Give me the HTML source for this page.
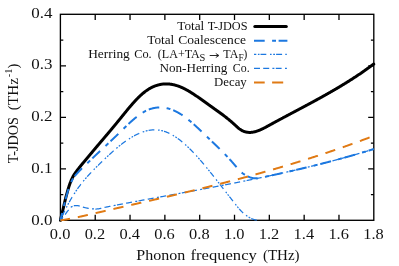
<!DOCTYPE html>
<html><head><meta charset="utf-8"><title>T-JDOS</title>
<style>html,body{margin:0;padding:0;background:#fff;overflow:hidden;}svg{display:block;will-change:transform;font-family:"Liberation Serif",serif;}text{fill:#111;}</style></head><body>
<svg width="399" height="266" viewBox="0 0 399 266">
<rect x="0" y="0" width="399" height="266" fill="#fff"/>
<rect x="60.4" y="14.3" width="313.40" height="206.00" fill="none" stroke="#000" stroke-width="1.35"/>
<path d="M95.22,220.3 v-5.6 M95.22,14.3 v5.6 M130.04,220.3 v-5.6 M130.04,14.3 v5.6 M164.87,220.3 v-5.6 M164.87,14.3 v5.6 M199.69,220.3 v-5.6 M199.69,14.3 v5.6 M234.51,220.3 v-5.6 M234.51,14.3 v5.6 M269.33,220.3 v-5.6 M269.33,14.3 v5.6 M304.16,220.3 v-5.6 M304.16,14.3 v5.6 M338.98,220.3 v-5.6 M338.98,14.3 v5.6 M60.4,194.55 h2.9 M373.8,194.55 h-2.9 M60.4,168.80 h5.6 M373.8,168.80 h-5.6 M60.4,143.05 h2.9 M373.8,143.05 h-2.9 M60.4,117.30 h5.6 M373.8,117.30 h-5.6 M60.4,91.55 h2.9 M373.8,91.55 h-2.9 M60.4,65.80 h5.6 M373.8,65.80 h-5.6 M60.4,40.05 h2.9 M373.8,40.05 h-2.9" stroke="#000" stroke-width="1.3" fill="none"/>
<g fill="none" stroke-linejoin="round">
<path d="M60.40,220.30 L60.75,218.82 L61.10,217.34 L61.44,215.87 L61.79,214.40 L62.14,212.93 L62.49,211.46 L62.84,210.00 L63.19,208.54 L63.53,207.08 L63.88,205.60 L64.23,204.11 L64.58,202.62 L64.93,201.15 L65.28,199.71 L65.62,198.30 L65.97,196.93 L66.32,195.62 L66.67,194.32 L67.02,193.04 L67.36,191.78 L67.71,190.55 L68.06,189.36 L68.41,188.21 L68.76,187.11 L69.11,186.05 L69.45,185.04 L69.80,184.05 L70.15,183.09 L70.50,182.16 L70.85,181.27 L71.19,180.40 L71.54,179.58 L71.89,178.79 L72.24,178.05 L72.59,177.35 L72.94,176.69 L73.28,176.06 L73.63,175.45 L73.98,174.87 L74.33,174.31 L74.68,173.77 L75.03,173.25 L75.37,172.75 L75.72,172.27 L76.07,171.79 L76.42,171.32 L76.77,170.87 L77.11,170.42 L77.46,169.97 L77.81,169.53 L78.16,169.08 L78.51,168.63 L78.86,168.18 L79.20,167.73 L79.55,167.28 L79.90,166.83 L80.25,166.39 L80.60,165.95 L80.95,165.52 L81.29,165.09 L81.64,164.67 L81.99,164.25 L82.34,163.84 L82.69,163.43 L83.03,163.02 L83.38,162.61 L83.73,162.20 L84.08,161.78 L84.43,161.37 L84.78,160.95 L85.12,160.54 L85.47,160.12 L85.82,159.71 L86.17,159.29 L86.52,158.88 L86.86,158.47 L87.21,158.05 L87.56,157.64 L87.91,157.22 L88.26,156.81 L88.61,156.39 L88.95,155.98 L89.30,155.56 L89.65,155.15 L90.00,154.73 L90.35,154.32 L90.70,153.90 L91.04,153.49 L91.39,153.07 L91.74,152.66 L92.09,152.24 L92.44,151.83 L92.78,151.41 L93.13,150.99 L93.48,150.58 L93.83,150.16 L94.18,149.74 L94.53,149.33 L94.87,148.91 L95.22,148.50 L95.57,148.08 L95.92,147.66 L96.27,147.25 L96.62,146.83 L96.96,146.42 L97.31,146.00 L97.66,145.59 L98.01,145.18 L98.36,144.76 L98.70,144.35 L99.05,143.94 L99.40,143.53 L99.75,143.12 L100.10,142.71 L100.45,142.30 L100.79,141.89 L101.14,141.48 L101.49,141.07 L101.84,140.66 L102.19,140.25 L102.53,139.84 L102.88,139.43 L103.23,139.02 L103.58,138.61 L103.93,138.20 L104.28,137.79 L104.62,137.38 L104.97,136.97 L105.32,136.56 L105.67,136.15 L106.02,135.74 L106.37,135.33 L106.71,134.92 L107.06,134.51 L107.41,134.10 L107.76,133.69 L108.11,133.27 L108.45,132.86 L108.80,132.45 L109.15,132.04 L109.50,131.62 L109.85,131.21 L110.20,130.80 L110.54,130.38 L110.89,129.97 L111.24,129.55 L111.59,129.14 L111.94,128.72 L112.29,128.30 L112.63,127.89 L112.98,127.47 L113.33,127.05 L113.68,126.63 L114.03,126.21 L114.37,125.79 L114.72,125.37 L115.07,124.95 L115.42,124.53 L115.77,124.11 L116.12,123.69 L116.46,123.26 L116.81,122.84 L117.16,122.41 L117.51,121.99 L117.86,121.56 L118.20,121.13 L118.55,120.71 L118.90,120.28 L119.25,119.85 L119.60,119.42 L119.95,118.99 L120.29,118.56 L120.64,118.13 L120.99,117.70 L121.34,117.27 L121.69,116.83 L122.04,116.40 L122.38,115.97 L122.73,115.54 L123.08,115.11 L123.43,114.68 L123.78,114.25 L124.12,113.82 L124.47,113.39 L124.82,112.97 L125.17,112.54 L125.52,112.11 L125.87,111.69 L126.21,111.26 L126.56,110.84 L126.91,110.41 L127.26,109.99 L127.61,109.57 L127.96,109.15 L128.30,108.73 L128.65,108.32 L129.00,107.90 L129.35,107.49 L129.70,107.08 L130.04,106.67 L130.39,106.26 L130.74,105.85 L131.09,105.45 L131.44,105.04 L131.79,104.64 L132.13,104.25 L132.48,103.85 L132.83,103.46 L133.18,103.06 L133.53,102.67 L133.87,102.29 L134.22,101.90 L134.57,101.52 L134.92,101.14 L135.27,100.77 L135.62,100.39 L135.96,100.02 L136.31,99.66 L136.66,99.29 L137.01,98.93 L137.36,98.57 L137.71,98.22 L138.05,97.87 L138.40,97.52 L138.75,97.18 L139.10,96.84 L139.45,96.50 L139.79,96.17 L140.14,95.84 L140.49,95.51 L140.84,95.19 L141.19,94.87 L141.54,94.56 L141.88,94.25 L142.23,93.95 L142.58,93.65 L142.93,93.35 L143.28,93.06 L143.63,92.77 L143.97,92.49 L144.32,92.21 L144.67,91.94 L145.02,91.67 L145.37,91.41 L145.71,91.15 L146.06,90.89 L146.41,90.64 L146.76,90.40 L147.11,90.16 L147.46,89.93 L147.80,89.70 L148.15,89.47 L148.50,89.25 L148.85,89.04 L149.20,88.83 L149.54,88.62 L149.89,88.42 L150.24,88.22 L150.59,88.03 L150.94,87.84 L151.29,87.66 L151.63,87.48 L151.98,87.31 L152.33,87.14 L152.68,86.97 L153.03,86.81 L153.38,86.66 L153.72,86.51 L154.07,86.36 L154.42,86.22 L154.77,86.08 L155.12,85.95 L155.46,85.82 L155.81,85.69 L156.16,85.57 L156.51,85.46 L156.86,85.34 L157.21,85.24 L157.55,85.13 L157.90,85.04 L158.25,84.94 L158.60,84.85 L158.95,84.77 L159.30,84.68 L159.64,84.61 L159.99,84.53 L160.34,84.46 L160.69,84.40 L161.04,84.34 L161.38,84.28 L161.73,84.23 L162.08,84.18 L162.43,84.13 L162.78,84.09 L163.13,84.06 L163.47,84.03 L163.82,84.00 L164.17,83.97 L164.52,83.95 L164.87,83.93 L165.21,83.92 L165.56,83.91 L165.91,83.91 L166.26,83.91 L166.61,83.91 L166.96,83.92 L167.30,83.93 L167.65,83.94 L168.00,83.96 L168.35,83.98 L168.70,84.01 L169.05,84.03 L169.39,84.07 L169.74,84.10 L170.09,84.14 L170.44,84.19 L170.79,84.24 L171.13,84.29 L171.48,84.34 L171.83,84.40 L172.18,84.46 L172.53,84.53 L172.88,84.60 L173.22,84.67 L173.57,84.74 L173.92,84.82 L174.27,84.91 L174.62,84.99 L174.97,85.08 L175.31,85.18 L175.66,85.27 L176.01,85.37 L176.36,85.48 L176.71,85.58 L177.05,85.69 L177.40,85.81 L177.75,85.92 L178.10,86.04 L178.45,86.17 L178.80,86.29 L179.14,86.42 L179.49,86.56 L179.84,86.69 L180.19,86.83 L180.54,86.97 L180.88,87.12 L181.23,87.27 L181.58,87.42 L181.93,87.57 L182.28,87.73 L182.63,87.89 L182.97,88.05 L183.32,88.22 L183.67,88.39 L184.02,88.56 L184.37,88.73 L184.72,88.91 L185.06,89.09 L185.41,89.27 L185.76,89.46 L186.11,89.64 L186.46,89.83 L186.80,90.02 L187.15,90.22 L187.50,90.41 L187.85,90.61 L188.20,90.81 L188.55,91.01 L188.89,91.22 L189.24,91.42 L189.59,91.63 L189.94,91.84 L190.29,92.05 L190.64,92.27 L190.98,92.48 L191.33,92.70 L191.68,92.92 L192.03,93.14 L192.38,93.36 L192.72,93.59 L193.07,93.81 L193.42,94.04 L193.77,94.27 L194.12,94.50 L194.47,94.73 L194.81,94.96 L195.16,95.19 L195.51,95.43 L195.86,95.66 L196.21,95.90 L196.55,96.14 L196.90,96.38 L197.25,96.62 L197.60,96.86 L197.95,97.10 L198.30,97.34 L198.64,97.59 L198.99,97.83 L199.34,98.08 L199.69,98.32 L200.04,98.57 L200.39,98.81 L200.73,99.06 L201.08,99.31 L201.43,99.56 L201.78,99.81 L202.13,100.05 L202.47,100.30 L202.82,100.55 L203.17,100.80 L203.52,101.05 L203.87,101.30 L204.22,101.55 L204.56,101.80 L204.91,102.05 L205.26,102.30 L205.61,102.55 L205.96,102.80 L206.31,103.05 L206.65,103.30 L207.00,103.55 L207.35,103.80 L207.70,104.04 L208.05,104.29 L208.39,104.54 L208.74,104.78 L209.09,105.03 L209.44,105.28 L209.79,105.52 L210.14,105.77 L210.48,106.02 L210.83,106.26 L211.18,106.51 L211.53,106.75 L211.88,107.00 L212.22,107.24 L212.57,107.49 L212.92,107.73 L213.27,107.98 L213.62,108.23 L213.97,108.47 L214.31,108.72 L214.66,108.96 L215.01,109.21 L215.36,109.46 L215.71,109.71 L216.06,109.95 L216.40,110.20 L216.75,110.45 L217.10,110.70 L217.45,110.95 L217.80,111.20 L218.14,111.45 L218.49,111.70 L218.84,111.95 L219.19,112.21 L219.54,112.46 L219.89,112.71 L220.23,112.97 L220.58,113.23 L220.93,113.48 L221.28,113.74 L221.63,114.00 L221.98,114.26 L222.32,114.52 L222.67,114.78 L223.02,115.04 L223.37,115.31 L223.72,115.57 L224.06,115.84 L224.41,116.11 L224.76,116.38 L225.11,116.65 L225.46,116.92 L225.81,117.19 L226.15,117.46 L226.50,117.74 L226.85,118.02 L227.20,118.29 L227.55,118.57 L227.89,118.86 L228.24,119.14 L228.59,119.42 L228.94,119.71 L229.29,120.00 L229.64,120.29 L229.98,120.58 L230.33,120.87 L230.68,121.17 L231.03,121.46 L231.38,121.76 L231.73,122.06 L232.07,122.37 L232.42,122.67 L232.77,122.98 L233.12,123.29 L233.47,123.60 L233.81,123.91 L234.16,124.23 L234.51,124.54 L234.86,124.86 L235.21,125.18 L235.56,125.51 L235.90,125.83 L236.25,126.16 L236.60,126.48 L236.95,126.80 L237.30,127.11 L237.65,127.42 L237.99,127.73 L238.34,128.03 L238.69,128.32 L239.04,128.60 L239.39,128.87 L239.73,129.12 L240.08,129.37 L240.43,129.60 L240.78,129.82 L241.13,130.03 L241.48,130.23 L241.82,130.42 L242.17,130.61 L242.52,130.78 L242.87,130.94 L243.22,131.09 L243.56,131.24 L243.91,131.37 L244.26,131.50 L244.61,131.62 L244.96,131.72 L245.31,131.83 L245.65,131.92 L246.00,132.00 L246.35,132.08 L246.70,132.15 L247.05,132.21 L247.40,132.26 L247.74,132.30 L248.09,132.34 L248.44,132.37 L248.79,132.39 L249.14,132.41 L249.48,132.42 L249.83,132.42 L250.18,132.41 L250.53,132.40 L250.88,132.38 L251.23,132.36 L251.57,132.33 L251.92,132.29 L252.27,132.25 L252.62,132.20 L252.97,132.14 L253.32,132.08 L253.66,132.01 L254.01,131.94 L254.36,131.87 L254.71,131.78 L255.06,131.70 L255.40,131.60 L255.75,131.51 L256.10,131.40 L256.45,131.30 L256.80,131.19 L257.15,131.07 L257.49,130.95 L257.84,130.83 L258.19,130.70 L258.54,130.57 L258.89,130.43 L259.23,130.29 L259.58,130.15 L259.93,130.01 L260.28,129.86 L260.63,129.70 L260.98,129.55 L261.32,129.39 L261.67,129.23 L262.02,129.07 L262.37,128.90 L262.72,128.73 L263.07,128.56 L263.41,128.39 L263.76,128.21 L264.11,128.03 L264.46,127.85 L264.81,127.67 L265.15,127.49 L265.50,127.31 L265.85,127.12 L266.20,126.94 L266.55,126.75 L266.90,126.56 L267.24,126.37 L267.59,126.18 L267.94,125.99 L268.29,125.80 L268.64,125.61 L268.99,125.41 L269.33,125.22 L269.68,125.03 L270.03,124.84 L270.38,124.64 L270.73,124.45 L271.07,124.26 L271.42,124.07 L271.77,123.88 L272.12,123.69 L272.47,123.50 L272.82,123.31 L273.16,123.12 L273.51,122.93 L273.86,122.74 L274.21,122.55 L274.56,122.36 L274.90,122.17 L275.25,121.98 L275.60,121.79 L275.95,121.60 L276.30,121.41 L276.65,121.22 L276.99,121.03 L277.34,120.85 L277.69,120.66 L278.04,120.47 L278.39,120.28 L278.74,120.09 L279.08,119.91 L279.43,119.72 L279.78,119.53 L280.13,119.34 L280.48,119.16 L280.82,118.97 L281.17,118.78 L281.52,118.60 L281.87,118.41 L282.22,118.22 L282.57,118.04 L282.91,117.85 L283.26,117.66 L283.61,117.48 L283.96,117.29 L284.31,117.10 L284.66,116.92 L285.00,116.73 L285.35,116.55 L285.70,116.36 L286.05,116.18 L286.40,115.99 L286.74,115.81 L287.09,115.62 L287.44,115.43 L287.79,115.25 L288.14,115.06 L288.49,114.88 L288.83,114.69 L289.18,114.51 L289.53,114.32 L289.88,114.14 L290.23,113.95 L290.57,113.77 L290.92,113.58 L291.27,113.40 L291.62,113.22 L291.97,113.03 L292.32,112.85 L292.66,112.66 L293.01,112.48 L293.36,112.29 L293.71,112.11 L294.06,111.92 L294.41,111.74 L294.75,111.55 L295.10,111.37 L295.45,111.18 L295.80,111.00 L296.15,110.82 L296.49,110.63 L296.84,110.45 L297.19,110.26 L297.54,110.08 L297.89,109.89 L298.24,109.71 L298.58,109.52 L298.93,109.34 L299.28,109.15 L299.63,108.97 L299.98,108.78 L300.33,108.60 L300.67,108.41 L301.02,108.23 L301.37,108.04 L301.72,107.86 L302.07,107.67 L302.41,107.49 L302.76,107.30 L303.11,107.12 L303.46,106.93 L303.81,106.75 L304.16,106.56 L304.50,106.38 L304.85,106.19 L305.20,106.00 L305.55,105.82 L305.90,105.63 L306.24,105.45 L306.59,105.26 L306.94,105.07 L307.29,104.89 L307.64,104.70 L307.99,104.51 L308.33,104.33 L308.68,104.14 L309.03,103.95 L309.38,103.77 L309.73,103.58 L310.08,103.39 L310.42,103.21 L310.77,103.02 L311.12,102.83 L311.47,102.64 L311.82,102.45 L312.16,102.27 L312.51,102.08 L312.86,101.89 L313.21,101.70 L313.56,101.51 L313.91,101.32 L314.25,101.14 L314.60,100.95 L314.95,100.76 L315.30,100.57 L315.65,100.38 L316.00,100.19 L316.34,100.00 L316.69,99.81 L317.04,99.62 L317.39,99.43 L317.74,99.24 L318.08,99.05 L318.43,98.85 L318.78,98.66 L319.13,98.47 L319.48,98.28 L319.83,98.09 L320.17,97.90 L320.52,97.70 L320.87,97.51 L321.22,97.32 L321.57,97.13 L321.91,96.93 L322.26,96.74 L322.61,96.55 L322.96,96.35 L323.31,96.16 L323.66,95.96 L324.00,95.77 L324.35,95.57 L324.70,95.38 L325.05,95.18 L325.40,94.99 L325.75,94.79 L326.09,94.60 L326.44,94.40 L326.79,94.20 L327.14,94.01 L327.49,93.81 L327.83,93.61 L328.18,93.41 L328.53,93.22 L328.88,93.02 L329.23,92.82 L329.58,92.62 L329.92,92.42 L330.27,92.22 L330.62,92.02 L330.97,91.82 L331.32,91.62 L331.67,91.42 L332.01,91.22 L332.36,91.02 L332.71,90.82 L333.06,90.62 L333.41,90.41 L333.75,90.21 L334.10,90.01 L334.45,89.80 L334.80,89.60 L335.15,89.40 L335.50,89.19 L335.84,88.99 L336.19,88.78 L336.54,88.58 L336.89,88.37 L337.24,88.17 L337.58,87.96 L337.93,87.75 L338.28,87.55 L338.63,87.34 L338.98,87.13 L339.33,86.92 L339.67,86.72 L340.02,86.51 L340.37,86.30 L340.72,86.09 L341.07,85.88 L341.42,85.67 L341.76,85.46 L342.11,85.25 L342.46,85.04 L342.81,84.82 L343.16,84.61 L343.50,84.40 L343.85,84.19 L344.20,83.97 L344.55,83.76 L344.90,83.54 L345.25,83.33 L345.59,83.11 L345.94,82.90 L346.29,82.68 L346.64,82.47 L346.99,82.25 L347.34,82.03 L347.68,81.81 L348.03,81.60 L348.38,81.38 L348.73,81.16 L349.08,80.94 L349.42,80.72 L349.77,80.50 L350.12,80.28 L350.47,80.06 L350.82,79.83 L351.17,79.61 L351.51,79.39 L351.86,79.17 L352.21,78.94 L352.56,78.72 L352.91,78.49 L353.25,78.27 L353.60,78.04 L353.95,77.82 L354.30,77.59 L354.65,77.36 L355.00,77.13 L355.34,76.91 L355.69,76.68 L356.04,76.45 L356.39,76.22 L356.74,75.99 L357.09,75.76 L357.43,75.53 L357.78,75.30 L358.13,75.06 L358.48,74.83 L358.83,74.60 L359.17,74.36 L359.52,74.13 L359.87,73.89 L360.22,73.66 L360.57,73.42 L360.92,73.19 L361.26,72.95 L361.61,72.71 L361.96,72.47 L362.31,72.23 L362.66,71.99 L363.01,71.75 L363.35,71.51 L363.70,71.27 L364.05,71.03 L364.40,70.79 L364.75,70.55 L365.09,70.30 L365.44,70.06 L365.79,69.81 L366.14,69.57 L366.49,69.32 L366.84,69.08 L367.18,68.83 L367.53,68.58 L367.88,68.33 L368.23,68.09 L368.58,67.84 L368.92,67.59 L369.27,67.34 L369.62,67.08 L369.97,66.83 L370.32,66.58 L370.67,66.33 L371.01,66.07 L371.36,65.82 L371.71,65.56 L372.06,65.31 L372.41,65.05 L372.76,64.79 L373.10,64.54 L373.45,64.28 L373.80,64.02" stroke="#000" stroke-width="3" stroke-linecap="round"/>
<path d="M60.40,220.30 L60.75,218.86 L61.10,217.42 L61.44,215.99 L61.79,214.57 L62.14,213.14 L62.49,211.72 L62.84,210.31 L63.19,208.90 L63.53,207.49 L63.88,206.06 L64.23,204.62 L64.58,203.19 L64.93,201.78 L65.28,200.39 L65.62,199.03 L65.97,197.73 L66.32,196.47 L66.67,195.23 L67.02,194.01 L67.36,192.81 L67.71,191.65 L68.06,190.52 L68.41,189.43 L68.76,188.39 L69.11,187.40 L69.45,186.45 L69.80,185.53 L70.15,184.64 L70.50,183.77 L70.85,182.95 L71.19,182.15 L71.54,181.40 L71.89,180.68 L72.24,180.00 L72.59,179.37 L72.94,178.78 L73.28,178.22 L73.63,177.69 L73.98,177.19 L74.33,176.69 L74.68,176.22 L75.03,175.78 L75.37,175.36 L75.72,174.95 L76.07,174.54 L76.42,174.15 L76.77,173.77 L77.11,173.39 L77.46,173.02 L77.81,172.66 L78.16,172.29 L78.51,171.91 L78.86,171.54 L79.20,171.17 L79.55,170.79 L79.90,170.42 L80.25,170.06 L80.60,169.69 L80.95,169.34 L81.29,168.99 L81.64,168.65 L81.99,168.31 L82.34,167.98 L82.69,167.64 L83.03,167.31 L83.38,166.98 L83.73,166.65 L84.08,166.32 L84.43,165.98 L84.78,165.65 L85.12,165.31 L85.47,164.98 L85.82,164.64 L86.17,164.31 L86.52,163.97 L86.86,163.64 L87.21,163.31 L87.56,162.97 L87.91,162.64 L88.26,162.30 L88.61,161.97 L88.95,161.64 L89.30,161.30 L89.65,160.97 L90.00,160.64 L90.35,160.31 L90.70,159.97 L91.04,159.64 L91.39,159.31 L91.74,158.97 L92.09,158.64 L92.44,158.30 L92.78,157.97 L93.13,157.64 L93.48,157.30 L93.83,156.97 L94.18,156.63 L94.53,156.30 L94.87,155.97 L95.22,155.63 L95.57,155.30 L95.92,154.97 L96.27,154.64 L96.62,154.30 L96.96,153.97 L97.31,153.64 L97.66,153.31 L98.01,152.98 L98.36,152.65 L98.70,152.32 L99.05,152.00 L99.40,151.67 L99.75,151.34 L100.10,151.01 L100.45,150.69 L100.79,150.36 L101.14,150.04 L101.49,149.71 L101.84,149.39 L102.19,149.06 L102.53,148.74 L102.88,148.41 L103.23,148.09 L103.58,147.76 L103.93,147.44 L104.28,147.11 L104.62,146.79 L104.97,146.47 L105.32,146.14 L105.67,145.82 L106.02,145.49 L106.37,145.17 L106.71,144.84 L107.06,144.52 L107.41,144.19 L107.76,143.87 L108.11,143.54 L108.45,143.21 L108.80,142.89 L109.15,142.56 L109.50,142.24 L109.85,141.91 L110.20,141.58 L110.54,141.26 L110.89,140.93 L111.24,140.60 L111.59,140.27 L111.94,139.94 L112.29,139.61 L112.63,139.29 L112.98,138.96 L113.33,138.63 L113.68,138.30 L114.03,137.96 L114.37,137.63 L114.72,137.30 L115.07,136.97 L115.42,136.64 L115.77,136.30 L116.12,135.97 L116.46,135.63 L116.81,135.30 L117.16,134.96 L117.51,134.63 L117.86,134.29 L118.20,133.95 L118.55,133.61 L118.90,133.27 L119.25,132.94 L119.60,132.60 L119.95,132.26 L120.29,131.92 L120.64,131.58 L120.99,131.23 L121.34,130.89 L121.69,130.55 L122.04,130.21 L122.38,129.87 L122.73,129.53 L123.08,129.19 L123.43,128.85 L123.78,128.51 L124.12,128.18 L124.47,127.84 L124.82,127.50 L125.17,127.16 L125.52,126.83 L125.87,126.49 L126.21,126.16 L126.56,125.83 L126.91,125.49 L127.26,125.16 L127.61,124.83 L127.96,124.51 L128.30,124.18 L128.65,123.85 L129.00,123.53 L129.35,123.20 L129.70,122.88 L130.04,122.56 L130.39,122.25 L130.74,121.93 L131.09,121.61 L131.44,121.30 L131.79,120.99 L132.13,120.68 L132.48,120.38 L132.83,120.07 L133.18,119.77 L133.53,119.47 L133.87,119.17 L134.22,118.88 L134.57,118.59 L134.92,118.30 L135.27,118.01 L135.62,117.72 L135.96,117.44 L136.31,117.16 L136.66,116.89 L137.01,116.61 L137.36,116.34 L137.71,116.08 L138.05,115.81 L138.40,115.55 L138.75,115.30 L139.10,115.04 L139.45,114.79 L139.79,114.54 L140.14,114.30 L140.49,114.06 L140.84,113.82 L141.19,113.59 L141.54,113.36 L141.88,113.14 L142.23,112.92 L142.58,112.70 L142.93,112.49 L143.28,112.28 L143.63,112.08 L143.97,111.88 L144.32,111.68 L144.67,111.49 L145.02,111.30 L145.37,111.12 L145.71,110.94 L146.06,110.77 L146.41,110.60 L146.76,110.44 L147.11,110.28 L147.46,110.13 L147.80,109.98 L148.15,109.83 L148.50,109.69 L148.85,109.55 L149.20,109.42 L149.54,109.29 L149.89,109.17 L150.24,109.05 L150.59,108.93 L150.94,108.82 L151.29,108.72 L151.63,108.61 L151.98,108.52 L152.33,108.42 L152.68,108.33 L153.03,108.25 L153.38,108.17 L153.72,108.09 L154.07,108.02 L154.42,107.95 L154.77,107.89 L155.12,107.83 L155.46,107.77 L155.81,107.72 L156.16,107.68 L156.51,107.63 L156.86,107.59 L157.21,107.56 L157.55,107.53 L157.90,107.50 L158.25,107.48 L158.60,107.46 L158.95,107.45 L159.30,107.44 L159.64,107.43 L159.99,107.43 L160.34,107.43 L160.69,107.44 L161.04,107.45 L161.38,107.46 L161.73,107.48 L162.08,107.50 L162.43,107.52 L162.78,107.55 L163.13,107.59 L163.47,107.63 L163.82,107.67 L164.17,107.71 L164.52,107.76 L164.87,107.81 L165.21,107.87 L165.56,107.93 L165.91,108.00 L166.26,108.07 L166.61,108.14 L166.96,108.21 L167.30,108.29 L167.65,108.38 L168.00,108.47 L168.35,108.56 L168.70,108.65 L169.05,108.75 L169.39,108.85 L169.74,108.96 L170.09,109.07 L170.44,109.19 L170.79,109.30 L171.13,109.42 L171.48,109.55 L171.83,109.68 L172.18,109.81 L172.53,109.95 L172.88,110.09 L173.22,110.23 L173.57,110.38 L173.92,110.53 L174.27,110.68 L174.62,110.84 L174.97,111.00 L175.31,111.17 L175.66,111.33 L176.01,111.51 L176.36,111.68 L176.71,111.86 L177.05,112.04 L177.40,112.23 L177.75,112.42 L178.10,112.61 L178.45,112.81 L178.80,113.01 L179.14,113.21 L179.49,113.42 L179.84,113.63 L180.19,113.84 L180.54,114.06 L180.88,114.27 L181.23,114.50 L181.58,114.72 L181.93,114.95 L182.28,115.19 L182.63,115.42 L182.97,115.66 L183.32,115.90 L183.67,116.15 L184.02,116.39 L184.37,116.64 L184.72,116.90 L185.06,117.15 L185.41,117.41 L185.76,117.67 L186.11,117.93 L186.46,118.20 L186.80,118.47 L187.15,118.74 L187.50,119.01 L187.85,119.29 L188.20,119.57 L188.55,119.85 L188.89,120.13 L189.24,120.41 L189.59,120.70 L189.94,120.99 L190.29,121.28 L190.64,121.58 L190.98,121.87 L191.33,122.17 L191.68,122.47 L192.03,122.77 L192.38,123.07 L192.72,123.37 L193.07,123.68 L193.42,123.99 L193.77,124.30 L194.12,124.61 L194.47,124.92 L194.81,125.23 L195.16,125.55 L195.51,125.86 L195.86,126.18 L196.21,126.50 L196.55,126.82 L196.90,127.14 L197.25,127.46 L197.60,127.79 L197.95,128.11 L198.30,128.44 L198.64,128.76 L198.99,129.09 L199.34,129.42 L199.69,129.75 L200.04,130.08 L200.39,130.41 L200.73,130.74 L201.08,131.07 L201.43,131.40 L201.78,131.73 L202.13,132.06 L202.47,132.40 L202.82,132.73 L203.17,133.07 L203.52,133.40 L203.87,133.73 L204.22,134.07 L204.56,134.40 L204.91,134.74 L205.26,135.07 L205.61,135.41 L205.96,135.74 L206.31,136.08 L206.65,136.41 L207.00,136.75 L207.35,137.08 L207.70,137.41 L208.05,137.75 L208.39,138.08 L208.74,138.41 L209.09,138.75 L209.44,139.08 L209.79,139.41 L210.14,139.74 L210.48,140.07 L210.83,140.41 L211.18,140.74 L211.53,141.07 L211.88,141.40 L212.22,141.74 L212.57,142.07 L212.92,142.40 L213.27,142.73 L213.62,143.07 L213.97,143.40 L214.31,143.73 L214.66,144.07 L215.01,144.40 L215.36,144.74 L215.71,145.07 L216.06,145.41 L216.40,145.74 L216.75,146.08 L217.10,146.42 L217.45,146.76 L217.80,147.09 L218.14,147.43 L218.49,147.77 L218.84,148.11 L219.19,148.45 L219.54,148.80 L219.89,149.14 L220.23,149.48 L220.58,149.83 L220.93,150.17 L221.28,150.52 L221.63,150.87 L221.98,151.22 L222.32,151.57 L222.67,151.92 L223.02,152.27 L223.37,152.62 L223.72,152.98 L224.06,153.33 L224.41,153.69 L224.76,154.05 L225.11,154.41 L225.46,154.77 L225.81,155.13 L226.15,155.50 L226.50,155.86 L226.85,156.23 L227.20,156.60 L227.55,156.97 L227.89,157.34 L228.24,157.71 L228.59,158.09 L228.94,158.46 L229.29,158.84 L229.64,159.22 L229.98,159.61 L230.33,159.99 L230.68,160.38 L231.03,160.76 L231.38,161.15 L231.73,161.54 L232.07,161.94 L232.42,162.33 L232.77,162.73 L233.12,163.13 L233.47,163.54 L233.81,163.94 L234.16,164.35 L234.51,164.76 L234.86,165.17 L235.21,165.58 L235.56,166.00 L235.90,166.41 L236.25,166.83 L236.60,167.24 L236.95,167.65 L237.30,168.06 L237.65,168.47 L237.99,168.86 L238.34,169.25 L238.69,169.64 L239.04,170.01 L239.39,170.38 L239.73,170.73 L240.08,171.07 L240.43,171.40 L240.78,171.72 L241.13,172.03 L241.48,172.33 L241.82,172.62 L242.17,172.91 L242.52,173.18 L242.87,173.44 L243.22,173.70 L243.56,173.95 L243.91,174.19 L244.26,174.42 L244.61,174.65 L244.96,174.87 L245.31,175.08 L245.65,175.29 L246.00,175.48 L246.35,175.67 L246.70,175.86 L247.05,176.04 L247.40,176.21 L247.74,176.38 L248.09,176.54 L248.44,176.69 L248.79,176.84 L249.14,176.98 L249.48,177.11 L249.83,177.24 L250.18,177.36 L250.53,177.48 L250.88,177.59 L251.23,177.69 L251.57,177.78 L251.92,177.87 L252.27,177.96 L252.62,178.03 L252.97,178.10 L253.32,178.16 L253.66,178.21 L254.01,178.26 L254.36,178.29 L254.71,178.32 L255.06,178.34 L255.40,178.35 L255.75,178.36 L256.10,178.36 L256.45,178.35 L256.80,178.34 L257.15,178.43 L257.49,178.36 L257.84,178.29 L258.19,178.22 L258.54,178.14 L258.89,178.07 L259.23,178.00 L259.58,177.93 L259.93,177.85 L260.28,177.78 L260.63,177.71 L260.98,177.64 L261.32,177.56 L261.67,177.49 L262.02,177.42 L262.37,177.34 L262.72,177.27 L263.07,177.20 L263.41,177.12 L263.76,177.05 L264.11,176.98 L264.46,176.90 L264.81,176.83 L265.15,176.76 L265.50,176.68 L265.85,176.61 L266.20,176.54 L266.55,176.46 L266.90,176.39 L267.24,176.31 L267.59,176.24 L267.94,176.17 L268.29,176.09 L268.64,176.02 L268.99,175.94 L269.33,175.87 L269.68,175.79 L270.03,175.72 L270.38,175.64 L270.73,175.57 L271.07,175.49 L271.42,175.42 L271.77,175.34 L272.12,175.27 L272.47,175.19 L272.82,175.12 L273.16,175.04 L273.51,174.97 L273.86,174.89 L274.21,174.82 L274.56,174.74 L274.90,174.67 L275.25,174.59 L275.60,174.51 L275.95,174.44 L276.30,174.36 L276.65,174.29 L276.99,174.21 L277.34,174.13 L277.69,174.06 L278.04,173.98 L278.39,173.90 L278.74,173.83 L279.08,173.75 L279.43,173.67 L279.78,173.60 L280.13,173.52 L280.48,173.44 L280.82,173.37 L281.17,173.29 L281.52,173.21 L281.87,173.13 L282.22,173.06 L282.57,172.98 L282.91,172.90 L283.26,172.82 L283.61,172.75 L283.96,172.67 L284.31,172.59 L284.66,172.51 L285.00,172.43 L285.35,172.36 L285.70,172.28 L286.05,172.20 L286.40,172.12 L286.74,172.04 L287.09,171.96 L287.44,171.89 L287.79,171.81 L288.14,171.73 L288.49,171.65 L288.83,171.57 L289.18,171.49 L289.53,171.41 L289.88,171.33 L290.23,171.25 L290.57,171.17 L290.92,171.09 L291.27,171.01 L291.62,170.93 L291.97,170.85 L292.32,170.77 L292.66,170.69 L293.01,170.61 L293.36,170.53 L293.71,170.45 L294.06,170.37 L294.41,170.29 L294.75,170.21 L295.10,170.13 L295.45,170.05 L295.80,169.97 L296.15,169.89 L296.49,169.81 L296.84,169.73 L297.19,169.65 L297.54,169.56 L297.89,169.48 L298.24,169.40 L298.58,169.32 L298.93,169.24 L299.28,169.16 L299.63,169.07 L299.98,168.99 L300.33,168.91 L300.67,168.83 L301.02,168.75 L301.37,168.66 L301.72,168.58 L302.07,168.50 L302.41,168.42 L302.76,168.33 L303.11,168.25 L303.46,168.17 L303.81,168.08 L304.16,168.00 L304.50,167.92 L304.85,167.83 L305.20,167.75 L305.55,167.67 L305.90,167.58 L306.24,167.50 L306.59,167.42 L306.94,167.33 L307.29,167.25 L307.64,167.16 L307.99,167.08 L308.33,166.99 L308.68,166.91 L309.03,166.83 L309.38,166.74 L309.73,166.66 L310.08,166.57 L310.42,166.49 L310.77,166.40 L311.12,166.32 L311.47,166.23 L311.82,166.15 L312.16,166.06 L312.51,165.97 L312.86,165.89 L313.21,165.80 L313.56,165.72 L313.91,165.63 L314.25,165.54 L314.60,165.46 L314.95,165.37 L315.30,165.29 L315.65,165.20 L316.00,165.11 L316.34,165.03 L316.69,164.94 L317.04,164.85 L317.39,164.76 L317.74,164.68 L318.08,164.59 L318.43,164.50 L318.78,164.41 L319.13,164.33 L319.48,164.24 L319.83,164.15 L320.17,164.06 L320.52,163.98 L320.87,163.89 L321.22,163.80 L321.57,163.71 L321.91,163.62 L322.26,163.53 L322.61,163.44 L322.96,163.36 L323.31,163.27 L323.66,163.18 L324.00,163.09 L324.35,163.00 L324.70,162.91 L325.05,162.82 L325.40,162.73 L325.75,162.64 L326.09,162.55 L326.44,162.46 L326.79,162.37 L327.14,162.28 L327.49,162.19 L327.83,162.10 L328.18,162.01 L328.53,161.92 L328.88,161.83 L329.23,161.74 L329.58,161.64 L329.92,161.55 L330.27,161.46 L330.62,161.37 L330.97,161.28 L331.32,161.19 L331.67,161.10 L332.01,161.00 L332.36,160.91 L332.71,160.82 L333.06,160.73 L333.41,160.63 L333.75,160.54 L334.10,160.45 L334.45,160.36 L334.80,160.26 L335.15,160.17 L335.50,160.08 L335.84,159.98 L336.19,159.89 L336.54,159.80 L336.89,159.70 L337.24,159.61 L337.58,159.52 L337.93,159.42 L338.28,159.33 L338.63,159.23 L338.98,159.14 L339.33,159.05 L339.67,158.95 L340.02,158.86 L340.37,158.76 L340.72,158.67 L341.07,158.57 L341.42,158.48 L341.76,158.38 L342.11,158.29 L342.46,158.19 L342.81,158.09 L343.16,158.00 L343.50,157.90 L343.85,157.81 L344.20,157.71 L344.55,157.61 L344.90,157.52 L345.25,157.42 L345.59,157.32 L345.94,157.23 L346.29,157.13 L346.64,157.03 L346.99,156.93 L347.34,156.84 L347.68,156.74 L348.03,156.64 L348.38,156.54 L348.73,156.45 L349.08,156.35 L349.42,156.25 L349.77,156.15 L350.12,156.05 L350.47,155.95 L350.82,155.86 L351.17,155.76 L351.51,155.66 L351.86,155.56 L352.21,155.46 L352.56,155.36 L352.91,155.26 L353.25,155.16 L353.60,155.06 L353.95,154.96 L354.30,154.86 L354.65,154.76 L355.00,154.66 L355.34,154.56 L355.69,154.46 L356.04,154.36 L356.39,154.26 L356.74,154.16 L357.09,154.06 L357.43,153.95 L357.78,153.85 L358.13,153.75 L358.48,153.65 L358.83,153.55 L359.17,153.45 L359.52,153.34 L359.87,153.24 L360.22,153.14 L360.57,153.04 L360.92,152.93 L361.26,152.83 L361.61,152.73 L361.96,152.62 L362.31,152.52 L362.66,152.42 L363.01,152.31 L363.35,152.21 L363.70,152.11 L364.05,152.00 L364.40,151.90 L364.75,151.79 L365.09,151.69 L365.44,151.59 L365.79,151.48 L366.14,151.38 L366.49,151.27 L366.84,151.17 L367.18,151.06 L367.53,150.95 L367.88,150.85 L368.23,150.74 L368.58,150.64 L368.92,150.53 L369.27,150.43 L369.62,150.32 L369.97,150.21 L370.32,150.11 L370.67,150.00 L371.01,149.89 L371.36,149.79 L371.71,149.68 L372.06,149.57 L372.41,149.46 L372.76,149.36 L373.10,149.25 L373.45,149.14 L373.80,149.03" stroke="#1c78e0" stroke-width="2" stroke-dasharray="10.7 7.4 3.9 3.0" stroke-dashoffset="3.3"/>
<path d="M60.40,220.30 L60.75,219.49 L61.10,218.69 L61.44,217.90 L61.79,217.12 L62.14,216.34 L62.49,215.57 L62.84,214.81 L63.19,214.05 L63.53,213.31 L63.88,212.57 L64.23,211.84 L64.58,211.12 L64.93,210.40 L65.28,209.69 L65.62,208.99 L65.97,208.30 L66.32,207.61 L66.67,206.93 L67.02,206.26 L67.36,205.59 L67.71,204.93 L68.06,204.28 L68.41,203.63 L68.76,202.99 L69.11,202.36 L69.45,201.73 L69.80,201.11 L70.15,200.50 L70.50,199.89 L70.85,199.29 L71.19,198.69 L71.54,198.10 L71.89,197.52 L72.24,196.94 L72.59,196.37 L72.94,195.81 L73.28,195.24 L73.63,194.69 L73.98,194.14 L74.33,193.60 L74.68,193.06 L75.03,192.52 L75.37,192.00 L75.72,191.47 L76.07,190.96 L76.42,190.44 L76.77,189.94 L77.11,189.43 L77.46,188.93 L77.81,188.44 L78.16,187.95 L78.51,187.47 L78.86,186.99 L79.20,186.51 L79.55,186.04 L79.90,185.57 L80.25,185.11 L80.60,184.65 L80.95,184.20 L81.29,183.75 L81.64,183.30 L81.99,182.86 L82.34,182.42 L82.69,181.99 L83.03,181.56 L83.38,181.13 L83.73,180.70 L84.08,180.28 L84.43,179.87 L84.78,179.45 L85.12,179.04 L85.47,178.63 L85.82,178.23 L86.17,177.83 L86.52,177.43 L86.86,177.03 L87.21,176.64 L87.56,176.25 L87.91,175.86 L88.26,175.48 L88.61,175.09 L88.95,174.71 L89.30,174.33 L89.65,173.96 L90.00,173.59 L90.35,173.21 L90.70,172.85 L91.04,172.48 L91.39,172.11 L91.74,171.75 L92.09,171.39 L92.44,171.03 L92.78,170.67 L93.13,170.31 L93.48,169.96 L93.83,169.61 L94.18,169.25 L94.53,168.90 L94.87,168.55 L95.22,168.20 L95.57,167.86 L95.92,167.51 L96.27,167.16 L96.62,166.82 L96.96,166.48 L97.31,166.13 L97.66,165.79 L98.01,165.45 L98.36,165.11 L98.70,164.76 L99.05,164.42 L99.40,164.08 L99.75,163.74 L100.10,163.40 L100.45,163.07 L100.79,162.73 L101.14,162.39 L101.49,162.05 L101.84,161.71 L102.19,161.38 L102.53,161.04 L102.88,160.71 L103.23,160.37 L103.58,160.04 L103.93,159.71 L104.28,159.37 L104.62,159.04 L104.97,158.71 L105.32,158.38 L105.67,158.05 L106.02,157.72 L106.37,157.40 L106.71,157.07 L107.06,156.74 L107.41,156.42 L107.76,156.09 L108.11,155.77 L108.45,155.45 L108.80,155.13 L109.15,154.81 L109.50,154.49 L109.85,154.17 L110.20,153.85 L110.54,153.54 L110.89,153.22 L111.24,152.91 L111.59,152.60 L111.94,152.28 L112.29,151.97 L112.63,151.66 L112.98,151.36 L113.33,151.05 L113.68,150.75 L114.03,150.44 L114.37,150.14 L114.72,149.84 L115.07,149.54 L115.42,149.24 L115.77,148.94 L116.12,148.65 L116.46,148.35 L116.81,148.06 L117.16,147.77 L117.51,147.48 L117.86,147.19 L118.20,146.91 L118.55,146.62 L118.90,146.34 L119.25,146.06 L119.60,145.78 L119.95,145.50 L120.29,145.22 L120.64,144.95 L120.99,144.67 L121.34,144.40 L121.69,144.13 L122.04,143.86 L122.38,143.60 L122.73,143.33 L123.08,143.07 L123.43,142.81 L123.78,142.55 L124.12,142.30 L124.47,142.04 L124.82,141.79 L125.17,141.54 L125.52,141.29 L125.87,141.04 L126.21,140.80 L126.56,140.56 L126.91,140.32 L127.26,140.08 L127.61,139.84 L127.96,139.61 L128.30,139.38 L128.65,139.15 L129.00,138.92 L129.35,138.70 L129.70,138.47 L130.04,138.25 L130.39,138.03 L130.74,137.82 L131.09,137.61 L131.44,137.39 L131.79,137.19 L132.13,136.98 L132.48,136.78 L132.83,136.58 L133.18,136.38 L133.53,136.18 L133.87,135.99 L134.22,135.80 L134.57,135.61 L134.92,135.42 L135.27,135.24 L135.62,135.06 L135.96,134.88 L136.31,134.71 L136.66,134.53 L137.01,134.36 L137.36,134.20 L137.71,134.03 L138.05,133.87 L138.40,133.71 L138.75,133.56 L139.10,133.40 L139.45,133.25 L139.79,133.11 L140.14,132.96 L140.49,132.82 L140.84,132.68 L141.19,132.55 L141.54,132.41 L141.88,132.29 L142.23,132.16 L142.58,132.04 L142.93,131.92 L143.28,131.80 L143.63,131.69 L143.97,131.57 L144.32,131.47 L144.67,131.36 L145.02,131.26 L145.37,131.16 L145.71,131.07 L146.06,130.98 L146.41,130.89 L146.76,130.81 L147.11,130.73 L147.46,130.65 L147.80,130.57 L148.15,130.50 L148.50,130.43 L148.85,130.37 L149.20,130.31 L149.54,130.25 L149.89,130.20 L150.24,130.15 L150.59,130.10 L150.94,130.06 L151.29,130.02 L151.63,129.99 L151.98,129.95 L152.33,129.93 L152.68,129.90 L153.03,129.88 L153.38,129.86 L153.72,129.85 L154.07,129.84 L154.42,129.84 L154.77,129.83 L155.12,129.84 L155.46,129.84 L155.81,129.85 L156.16,129.87 L156.51,129.88 L156.86,129.90 L157.21,129.93 L157.55,129.96 L157.90,129.99 L158.25,130.03 L158.60,130.07 L158.95,130.12 L159.30,130.17 L159.64,130.22 L159.99,130.28 L160.34,130.34 L160.69,130.41 L161.04,130.48 L161.38,130.56 L161.73,130.64 L162.08,130.72 L162.43,130.81 L162.78,130.90 L163.13,131.00 L163.47,131.10 L163.82,131.20 L164.17,131.31 L164.52,131.42 L164.87,131.54 L165.21,131.66 L165.56,131.78 L165.91,131.91 L166.26,132.05 L166.61,132.18 L166.96,132.32 L167.30,132.47 L167.65,132.62 L168.00,132.77 L168.35,132.92 L168.70,133.08 L169.05,133.25 L169.39,133.41 L169.74,133.58 L170.09,133.76 L170.44,133.94 L170.79,134.12 L171.13,134.31 L171.48,134.49 L171.83,134.69 L172.18,134.88 L172.53,135.08 L172.88,135.29 L173.22,135.49 L173.57,135.70 L173.92,135.92 L174.27,136.13 L174.62,136.35 L174.97,136.58 L175.31,136.80 L175.66,137.03 L176.01,137.27 L176.36,137.50 L176.71,137.74 L177.05,137.99 L177.40,138.23 L177.75,138.48 L178.10,138.74 L178.45,138.99 L178.80,139.25 L179.14,139.51 L179.49,139.78 L179.84,140.04 L180.19,140.31 L180.54,140.59 L180.88,140.86 L181.23,141.14 L181.58,141.43 L181.93,141.71 L182.28,142.00 L182.63,142.29 L182.97,142.58 L183.32,142.88 L183.67,143.18 L184.02,143.48 L184.37,143.79 L184.72,144.09 L185.06,144.40 L185.41,144.71 L185.76,145.03 L186.11,145.35 L186.46,145.67 L186.80,145.99 L187.15,146.31 L187.50,146.64 L187.85,146.97 L188.20,147.30 L188.55,147.64 L188.89,147.97 L189.24,148.31 L189.59,148.65 L189.94,149.00 L190.29,149.34 L190.64,149.69 L190.98,150.04 L191.33,150.39 L191.68,150.75 L192.03,151.10 L192.38,151.46 L192.72,151.82 L193.07,152.19 L193.42,152.55 L193.77,152.92 L194.12,153.29 L194.47,153.66 L194.81,154.03 L195.16,154.41 L195.51,154.78 L195.86,155.16 L196.21,155.54 L196.55,155.92 L196.90,156.31 L197.25,156.69 L197.60,157.08 L197.95,157.47 L198.30,157.86 L198.64,158.25 L198.99,158.65 L199.34,159.04 L199.69,159.44 L200.04,159.84 L200.39,160.24 L200.73,160.64 L201.08,161.04 L201.43,161.45 L201.78,161.85 L202.13,162.26 L202.47,162.67 L202.82,163.08 L203.17,163.49 L203.52,163.90 L203.87,164.32 L204.22,164.73 L204.56,165.15 L204.91,165.57 L205.26,165.99 L205.61,166.41 L205.96,166.83 L206.31,167.25 L206.65,167.68 L207.00,168.10 L207.35,168.53 L207.70,168.95 L208.05,169.38 L208.39,169.81 L208.74,170.24 L209.09,170.67 L209.44,171.10 L209.79,171.53 L210.14,171.96 L210.48,172.40 L210.83,172.83 L211.18,173.27 L211.53,173.70 L211.88,174.14 L212.22,174.58 L212.57,175.02 L212.92,175.45 L213.27,175.89 L213.62,176.33 L213.97,176.77 L214.31,177.21 L214.66,177.66 L215.01,178.10 L215.36,178.54 L215.71,178.98 L216.06,179.43 L216.40,179.87 L216.75,180.31 L217.10,180.76 L217.45,181.20 L217.80,181.65 L218.14,182.09 L218.49,182.54 L218.84,182.98 L219.19,183.43 L219.54,183.88 L219.89,184.32 L220.23,184.77 L220.58,185.21 L220.93,185.66 L221.28,186.11 L221.63,186.55 L221.98,187.00 L222.32,187.45 L222.67,187.89 L223.02,188.34 L223.37,188.79 L223.72,189.23 L224.06,189.68 L224.41,190.13 L224.76,190.57 L225.11,191.02 L225.46,191.47 L225.81,191.91 L226.15,192.36 L226.50,192.81 L226.85,193.25 L227.20,193.70 L227.55,194.15 L227.89,194.60 L228.24,195.04 L228.59,195.49 L228.94,195.94 L229.29,196.39 L229.64,196.84 L229.98,197.28 L230.33,197.73 L230.68,198.18 L231.03,198.63 L231.38,199.08 L231.73,199.53 L232.07,199.98 L232.42,200.43 L232.77,200.88 L233.12,201.33 L233.47,201.77 L233.81,202.22 L234.16,202.67 L234.51,203.12 L234.86,203.56 L235.21,204.00 L235.56,204.44 L235.90,204.88 L236.25,205.32 L236.60,205.75 L236.95,206.18 L237.30,206.61 L237.65,207.03 L237.99,207.45 L238.34,207.86 L238.69,208.27 L239.04,208.67 L239.39,209.07 L239.73,209.46 L240.08,209.85 L240.43,210.23 L240.78,210.60 L241.13,210.97 L241.48,211.33 L241.82,211.68 L242.17,212.03 L242.52,212.36 L242.87,212.69 L243.22,213.02 L243.56,213.33 L243.91,213.64 L244.26,213.94 L244.61,214.23 L244.96,214.52 L245.31,214.79 L245.65,215.07 L246.00,215.33 L246.35,215.59 L246.70,215.84 L247.05,216.08 L247.40,216.31 L247.74,216.54 L248.09,216.76 L248.44,216.98 L248.79,217.18 L249.14,217.38 L249.48,217.58 L249.83,217.76 L250.18,217.94 L250.53,218.12 L250.88,218.28 L251.23,218.44 L251.57,218.60 L251.92,218.74 L252.27,218.89 L252.62,219.02 L252.97,219.15 L253.32,219.27 L253.66,219.38 L254.01,219.49 L254.36,219.59 L254.71,219.69 L255.06,219.78 L255.40,219.86 L255.75,219.94 L256.10,220.01 L256.45,220.07 L256.80,220.13 L257.15,220.30" stroke="#1c78e0" stroke-width="1.25" stroke-dasharray="5.8 3.7 1.6 1.6 1.8 1.1" stroke-dashoffset="11"/>
<path d="M60.40,220.30 L60.75,219.89 L61.10,219.48 L61.44,219.07 L61.79,218.65 L62.14,218.24 L62.49,217.82 L62.84,217.40 L63.19,216.97 L63.53,216.54 L63.88,216.11 L64.23,215.67 L64.58,215.22 L64.93,214.77 L65.28,214.31 L65.62,213.84 L65.97,213.37 L66.32,212.89 L66.67,212.42 L67.02,211.94 L67.36,211.47 L67.71,211.00 L68.06,210.54 L68.41,210.09 L68.76,209.65 L69.11,209.23 L69.45,208.82 L69.80,208.43 L70.15,208.06 L70.50,207.71 L70.85,207.39 L71.19,207.10 L71.54,206.85 L71.89,206.63 L72.24,206.43 L72.59,206.26 L72.94,206.12 L73.28,205.99 L73.63,205.88 L73.98,205.78 L74.33,205.70 L74.68,205.64 L75.03,205.59 L75.37,205.55 L75.72,205.53 L76.07,205.52 L76.42,205.52 L76.77,205.54 L77.11,205.57 L77.46,205.61 L77.81,205.66 L78.16,205.72 L78.51,205.79 L78.86,205.87 L79.20,205.95 L79.55,206.04 L79.90,206.14 L80.25,206.24 L80.60,206.35 L80.95,206.46 L81.29,206.57 L81.64,206.68 L81.99,206.79 L82.34,206.90 L82.69,207.01 L83.03,207.12 L83.38,207.22 L83.73,207.32 L84.08,207.41 L84.43,207.51 L84.78,207.59 L85.12,207.68 L85.47,207.76 L85.82,207.84 L86.17,207.92 L86.52,208.00 L86.86,208.07 L87.21,208.14 L87.56,208.20 L87.91,208.27 L88.26,208.33 L88.61,208.39 L88.95,208.45 L89.30,208.51 L89.65,208.56 L90.00,208.61 L90.35,208.66 L90.70,208.70 L91.04,208.75 L91.39,208.79 L91.74,208.82 L92.09,208.86 L92.44,208.89 L92.78,208.92 L93.13,208.94 L93.48,208.97 L93.83,208.98 L94.18,209.00 L94.53,209.01 L94.87,209.02 L95.22,209.02 L95.57,209.03 L95.92,209.02 L96.27,209.02 L96.62,209.00 L96.96,208.98 L97.31,208.96 L97.66,208.93 L98.01,208.89 L98.36,208.84 L98.70,208.79 L99.05,208.73 L99.40,208.66 L99.75,208.59 L100.10,208.52 L100.45,208.44 L100.79,208.36 L101.14,208.28 L101.49,208.19 L101.84,208.10 L102.19,208.01 L102.53,207.93 L102.88,207.84 L103.23,207.75 L103.58,207.67 L103.93,207.58 L104.28,207.50 L104.62,207.42 L104.97,207.34 L105.32,207.26 L105.67,207.19 L106.02,207.11 L106.37,207.04 L106.71,206.97 L107.06,206.90 L107.41,206.83 L107.76,206.77 L108.11,206.70 L108.45,206.63 L108.80,206.56 L109.15,206.49 L109.50,206.43 L109.85,206.36 L110.20,206.29 L110.54,206.22 L110.89,206.16 L111.24,206.09 L111.59,206.02 L111.94,205.96 L112.29,205.89 L112.63,205.82 L112.98,205.75 L113.33,205.69 L113.68,205.62 L114.03,205.55 L114.37,205.49 L114.72,205.42 L115.07,205.35 L115.42,205.28 L115.77,205.22 L116.12,205.15 L116.46,205.08 L116.81,205.02 L117.16,204.95 L117.51,204.88 L117.86,204.82 L118.20,204.75 L118.55,204.68 L118.90,204.62 L119.25,204.55 L119.60,204.49 L119.95,204.42 L120.29,204.35 L120.64,204.29 L120.99,204.22 L121.34,204.15 L121.69,204.09 L122.04,204.02 L122.38,203.96 L122.73,203.89 L123.08,203.82 L123.43,203.76 L123.78,203.69 L124.12,203.62 L124.47,203.56 L124.82,203.49 L125.17,203.43 L125.52,203.36 L125.87,203.30 L126.21,203.23 L126.56,203.16 L126.91,203.10 L127.26,203.03 L127.61,202.97 L127.96,202.90 L128.30,202.84 L128.65,202.77 L129.00,202.70 L129.35,202.64 L129.70,202.57 L130.04,202.51 L130.39,202.44 L130.74,202.38 L131.09,202.31 L131.44,202.25 L131.79,202.18 L132.13,202.12 L132.48,202.05 L132.83,201.99 L133.18,201.92 L133.53,201.86 L133.87,201.79 L134.22,201.72 L134.57,201.66 L134.92,201.59 L135.27,201.53 L135.62,201.46 L135.96,201.40 L136.31,201.33 L136.66,201.27 L137.01,201.20 L137.36,201.14 L137.71,201.07 L138.05,201.01 L138.40,200.94 L138.75,200.88 L139.10,200.82 L139.45,200.75 L139.79,200.69 L140.14,200.62 L140.49,200.56 L140.84,200.49 L141.19,200.43 L141.54,200.36 L141.88,200.30 L142.23,200.23 L142.58,200.17 L142.93,200.10 L143.28,200.04 L143.63,199.97 L143.97,199.91 L144.32,199.85 L144.67,199.78 L145.02,199.72 L145.37,199.65 L145.71,199.59 L146.06,199.52 L146.41,199.46 L146.76,199.39 L147.11,199.33 L147.46,199.27 L147.80,199.20 L148.15,199.14 L148.50,199.07 L148.85,199.01 L149.20,198.94 L149.54,198.88 L149.89,198.82 L150.24,198.75 L150.59,198.69 L150.94,198.62 L151.29,198.56 L151.63,198.49 L151.98,198.43 L152.33,198.37 L152.68,198.30 L153.03,198.24 L153.38,198.17 L153.72,198.11 L154.07,198.05 L154.42,197.98 L154.77,197.92 L155.12,197.85 L155.46,197.79 L155.81,197.73 L156.16,197.66 L156.51,197.60 L156.86,197.53 L157.21,197.47 L157.55,197.41 L157.90,197.34 L158.25,197.28 L158.60,197.21 L158.95,197.15 L159.30,197.09 L159.64,197.02 L159.99,196.96 L160.34,196.89 L160.69,196.83 L161.04,196.77 L161.38,196.70 L161.73,196.64 L162.08,196.57 L162.43,196.51 L162.78,196.45 L163.13,196.38 L163.47,196.32 L163.82,196.25 L164.17,196.19 L164.52,196.13 L164.87,196.06 L165.21,196.00 L165.56,195.93 L165.91,195.87 L166.26,195.81 L166.61,195.74 L166.96,195.68 L167.30,195.62 L167.65,195.55 L168.00,195.49 L168.35,195.42 L168.70,195.36 L169.05,195.30 L169.39,195.23 L169.74,195.17 L170.09,195.10 L170.44,195.04 L170.79,194.98 L171.13,194.91 L171.48,194.85 L171.83,194.78 L172.18,194.72 L172.53,194.66 L172.88,194.59 L173.22,194.53 L173.57,194.47 L173.92,194.40 L174.27,194.34 L174.62,194.27 L174.97,194.21 L175.31,194.15 L175.66,194.08 L176.01,194.02 L176.36,193.95 L176.71,193.89 L177.05,193.83 L177.40,193.76 L177.75,193.70 L178.10,193.63 L178.45,193.57 L178.80,193.51 L179.14,193.44 L179.49,193.38 L179.84,193.31 L180.19,193.25 L180.54,193.19 L180.88,193.12 L181.23,193.06 L181.58,192.99 L181.93,192.93 L182.28,192.87 L182.63,192.80 L182.97,192.74 L183.32,192.67 L183.67,192.61 L184.02,192.54 L184.37,192.48 L184.72,192.42 L185.06,192.35 L185.41,192.29 L185.76,192.22 L186.11,192.16 L186.46,192.10 L186.80,192.03 L187.15,191.97 L187.50,191.90 L187.85,191.84 L188.20,191.77 L188.55,191.71 L188.89,191.65 L189.24,191.58 L189.59,191.52 L189.94,191.45 L190.29,191.39 L190.64,191.32 L190.98,191.26 L191.33,191.20 L191.68,191.13 L192.03,191.07 L192.38,191.00 L192.72,190.94 L193.07,190.87 L193.42,190.81 L193.77,190.74 L194.12,190.68 L194.47,190.61 L194.81,190.55 L195.16,190.49 L195.51,190.42 L195.86,190.36 L196.21,190.29 L196.55,190.23 L196.90,190.16 L197.25,190.10 L197.60,190.03 L197.95,189.97 L198.30,189.90 L198.64,189.84 L198.99,189.77 L199.34,189.71 L199.69,189.64 L200.04,189.58 L200.39,189.51 L200.73,189.45 L201.08,189.38 L201.43,189.32 L201.78,189.25 L202.13,189.19 L202.47,189.12 L202.82,189.06 L203.17,188.99 L203.52,188.93 L203.87,188.86 L204.22,188.80 L204.56,188.73 L204.91,188.67 L205.26,188.60 L205.61,188.54 L205.96,188.47 L206.31,188.41 L206.65,188.34 L207.00,188.28 L207.35,188.21 L207.70,188.14 L208.05,188.08 L208.39,188.01 L208.74,187.95 L209.09,187.88 L209.44,187.82 L209.79,187.75 L210.14,187.69 L210.48,187.62 L210.83,187.55 L211.18,187.49 L211.53,187.42 L211.88,187.36 L212.22,187.29 L212.57,187.22 L212.92,187.16 L213.27,187.09 L213.62,187.03 L213.97,186.96 L214.31,186.89 L214.66,186.83 L215.01,186.76 L215.36,186.70 L215.71,186.63 L216.06,186.56 L216.40,186.50 L216.75,186.43 L217.10,186.36 L217.45,186.30 L217.80,186.23 L218.14,186.17 L218.49,186.10 L218.84,186.03 L219.19,185.97 L219.54,185.90 L219.89,185.83 L220.23,185.77 L220.58,185.70 L220.93,185.63 L221.28,185.57 L221.63,185.50 L221.98,185.43 L222.32,185.37 L222.67,185.30 L223.02,185.23 L223.37,185.16 L223.72,185.10 L224.06,185.03 L224.41,184.96 L224.76,184.90 L225.11,184.83 L225.46,184.76 L225.81,184.69 L226.15,184.63 L226.50,184.56 L226.85,184.49 L227.20,184.42 L227.55,184.36 L227.89,184.29 L228.24,184.22 L228.59,184.15 L228.94,184.09 L229.29,184.02 L229.64,183.95 L229.98,183.88 L230.33,183.82 L230.68,183.75 L231.03,183.68 L231.38,183.61 L231.73,183.54 L232.07,183.48 L232.42,183.41 L232.77,183.34 L233.12,183.27 L233.47,183.20 L233.81,183.13 L234.16,183.07 L234.51,183.00 L234.86,182.93 L235.21,182.86 L235.56,182.79 L235.90,182.72 L236.25,182.65 L236.60,182.59 L236.95,182.52 L237.30,182.45 L237.65,182.38 L237.99,182.31 L238.34,182.24 L238.69,182.17 L239.04,182.10 L239.39,182.03 L239.73,181.96 L240.08,181.90 L240.43,181.83 L240.78,181.76 L241.13,181.69 L241.48,181.62 L241.82,181.55 L242.17,181.48 L242.52,181.41 L242.87,181.34 L243.22,181.27 L243.56,181.20 L243.91,181.13 L244.26,181.06 L244.61,180.99 L244.96,180.92 L245.31,180.85 L245.65,180.78 L246.00,180.71 L246.35,180.64 L246.70,180.57 L247.05,180.50 L247.40,180.43 L247.74,180.36 L248.09,180.29 L248.44,180.22 L248.79,180.15 L249.14,180.08 L249.48,180.01 L249.83,179.93 L250.18,179.86 L250.53,179.79 L250.88,179.72 L251.23,179.65 L251.57,179.58 L251.92,179.51 L252.27,179.44 L252.62,179.37 L252.97,179.29 L253.32,179.22 L253.66,179.15 L254.01,179.08 L254.36,179.01 L254.71,178.94 L255.06,178.87 L255.40,178.79 L255.75,178.72 L256.10,178.65 L256.45,178.58 L256.80,178.51 L257.15,178.43 L257.49,178.36 L257.84,178.29 L258.19,178.22 L258.54,178.14 L258.89,178.07 L259.23,178.00 L259.58,177.93 L259.93,177.85 L260.28,177.78 L260.63,177.71 L260.98,177.64 L261.32,177.56 L261.67,177.49 L262.02,177.42 L262.37,177.34 L262.72,177.27 L263.07,177.20 L263.41,177.12 L263.76,177.05 L264.11,176.98 L264.46,176.90 L264.81,176.83 L265.15,176.76 L265.50,176.68 L265.85,176.61 L266.20,176.54 L266.55,176.46 L266.90,176.39 L267.24,176.31 L267.59,176.24 L267.94,176.17 L268.29,176.09 L268.64,176.02 L268.99,175.94 L269.33,175.87 L269.68,175.79 L270.03,175.72 L270.38,175.64 L270.73,175.57 L271.07,175.49 L271.42,175.42 L271.77,175.34 L272.12,175.27 L272.47,175.19 L272.82,175.12 L273.16,175.04 L273.51,174.97 L273.86,174.89 L274.21,174.82 L274.56,174.74 L274.90,174.67 L275.25,174.59 L275.60,174.51 L275.95,174.44 L276.30,174.36 L276.65,174.29 L276.99,174.21 L277.34,174.13 L277.69,174.06 L278.04,173.98 L278.39,173.90 L278.74,173.83 L279.08,173.75 L279.43,173.67 L279.78,173.60 L280.13,173.52 L280.48,173.44 L280.82,173.37 L281.17,173.29 L281.52,173.21 L281.87,173.13 L282.22,173.06 L282.57,172.98 L282.91,172.90 L283.26,172.82 L283.61,172.75 L283.96,172.67 L284.31,172.59 L284.66,172.51 L285.00,172.43 L285.35,172.36 L285.70,172.28 L286.05,172.20 L286.40,172.12 L286.74,172.04 L287.09,171.96 L287.44,171.89 L287.79,171.81 L288.14,171.73 L288.49,171.65 L288.83,171.57 L289.18,171.49 L289.53,171.41 L289.88,171.33 L290.23,171.25 L290.57,171.17 L290.92,171.09 L291.27,171.01 L291.62,170.93 L291.97,170.85 L292.32,170.77 L292.66,170.69 L293.01,170.61 L293.36,170.53 L293.71,170.45 L294.06,170.37 L294.41,170.29 L294.75,170.21 L295.10,170.13 L295.45,170.05 L295.80,169.97 L296.15,169.89 L296.49,169.81 L296.84,169.73 L297.19,169.65 L297.54,169.56 L297.89,169.48 L298.24,169.40 L298.58,169.32 L298.93,169.24 L299.28,169.16 L299.63,169.07 L299.98,168.99 L300.33,168.91 L300.67,168.83 L301.02,168.75 L301.37,168.66 L301.72,168.58 L302.07,168.50 L302.41,168.42 L302.76,168.33 L303.11,168.25 L303.46,168.17 L303.81,168.08 L304.16,168.00 L304.50,167.92 L304.85,167.83 L305.20,167.75 L305.55,167.67 L305.90,167.58 L306.24,167.50 L306.59,167.42 L306.94,167.33 L307.29,167.25 L307.64,167.16 L307.99,167.08 L308.33,166.99 L308.68,166.91 L309.03,166.83 L309.38,166.74 L309.73,166.66 L310.08,166.57 L310.42,166.49 L310.77,166.40 L311.12,166.32 L311.47,166.23 L311.82,166.15 L312.16,166.06 L312.51,165.97 L312.86,165.89 L313.21,165.80 L313.56,165.72 L313.91,165.63 L314.25,165.54 L314.60,165.46 L314.95,165.37 L315.30,165.29 L315.65,165.20 L316.00,165.11 L316.34,165.03 L316.69,164.94 L317.04,164.85 L317.39,164.76 L317.74,164.68 L318.08,164.59 L318.43,164.50 L318.78,164.41 L319.13,164.33 L319.48,164.24 L319.83,164.15 L320.17,164.06 L320.52,163.98 L320.87,163.89 L321.22,163.80 L321.57,163.71 L321.91,163.62 L322.26,163.53 L322.61,163.44 L322.96,163.36 L323.31,163.27 L323.66,163.18 L324.00,163.09 L324.35,163.00 L324.70,162.91 L325.05,162.82 L325.40,162.73 L325.75,162.64 L326.09,162.55 L326.44,162.46 L326.79,162.37 L327.14,162.28 L327.49,162.19 L327.83,162.10 L328.18,162.01 L328.53,161.92 L328.88,161.83 L329.23,161.74 L329.58,161.64 L329.92,161.55 L330.27,161.46 L330.62,161.37 L330.97,161.28 L331.32,161.19 L331.67,161.10 L332.01,161.00 L332.36,160.91 L332.71,160.82 L333.06,160.73 L333.41,160.63 L333.75,160.54 L334.10,160.45 L334.45,160.36 L334.80,160.26 L335.15,160.17 L335.50,160.08 L335.84,159.98 L336.19,159.89 L336.54,159.80 L336.89,159.70 L337.24,159.61 L337.58,159.52 L337.93,159.42 L338.28,159.33 L338.63,159.23 L338.98,159.14 L339.33,159.05 L339.67,158.95 L340.02,158.86 L340.37,158.76 L340.72,158.67 L341.07,158.57 L341.42,158.48 L341.76,158.38 L342.11,158.29 L342.46,158.19 L342.81,158.09 L343.16,158.00 L343.50,157.90 L343.85,157.81 L344.20,157.71 L344.55,157.61 L344.90,157.52 L345.25,157.42 L345.59,157.32 L345.94,157.23 L346.29,157.13 L346.64,157.03 L346.99,156.93 L347.34,156.84 L347.68,156.74 L348.03,156.64 L348.38,156.54 L348.73,156.45 L349.08,156.35 L349.42,156.25 L349.77,156.15 L350.12,156.05 L350.47,155.95 L350.82,155.86 L351.17,155.76 L351.51,155.66 L351.86,155.56 L352.21,155.46 L352.56,155.36 L352.91,155.26 L353.25,155.16 L353.60,155.06 L353.95,154.96 L354.30,154.86 L354.65,154.76 L355.00,154.66 L355.34,154.56 L355.69,154.46 L356.04,154.36 L356.39,154.26 L356.74,154.16 L357.09,154.06 L357.43,153.95 L357.78,153.85 L358.13,153.75 L358.48,153.65 L358.83,153.55 L359.17,153.45 L359.52,153.34 L359.87,153.24 L360.22,153.14 L360.57,153.04 L360.92,152.93 L361.26,152.83 L361.61,152.73 L361.96,152.62 L362.31,152.52 L362.66,152.42 L363.01,152.31 L363.35,152.21 L363.70,152.11 L364.05,152.00 L364.40,151.90 L364.75,151.79 L365.09,151.69 L365.44,151.59 L365.79,151.48 L366.14,151.38 L366.49,151.27 L366.84,151.17 L367.18,151.06 L367.53,150.95 L367.88,150.85 L368.23,150.74 L368.58,150.64 L368.92,150.53 L369.27,150.43 L369.62,150.32 L369.97,150.21 L370.32,150.11 L370.67,150.00 L371.01,149.89 L371.36,149.79 L371.71,149.68 L372.06,149.57 L372.41,149.46 L372.76,149.36 L373.10,149.25 L373.45,149.14 L373.80,149.03" stroke="#1c78e0" stroke-width="1.25" stroke-dasharray="6 3.3 6 3.3 2 1.4" stroke-dashoffset="2"/>
<path d="M60.40,220.30 L60.75,220.26 L61.10,220.22 L61.44,220.17 L61.79,220.13 L62.14,220.08 L62.49,220.04 L62.84,219.99 L63.19,219.94 L63.53,219.89 L63.88,219.84 L64.23,219.79 L64.58,219.73 L64.93,219.68 L65.28,219.62 L65.62,219.56 L65.97,219.51 L66.32,219.45 L66.67,219.39 L67.02,219.33 L67.36,219.27 L67.71,219.21 L68.06,219.14 L68.41,219.08 L68.76,219.02 L69.11,218.95 L69.45,218.89 L69.80,218.82 L70.15,218.76 L70.50,218.69 L70.85,218.62 L71.19,218.55 L71.54,218.49 L71.89,218.42 L72.24,218.35 L72.59,218.28 L72.94,218.21 L73.28,218.13 L73.63,218.06 L73.98,217.99 L74.33,217.92 L74.68,217.85 L75.03,217.77 L75.37,217.70 L75.72,217.63 L76.07,217.55 L76.42,217.48 L76.77,217.40 L77.11,217.33 L77.46,217.25 L77.81,217.18 L78.16,217.10 L78.51,217.02 L78.86,216.95 L79.20,216.87 L79.55,216.79 L79.90,216.72 L80.25,216.64 L80.60,216.56 L80.95,216.49 L81.29,216.41 L81.64,216.33 L81.99,216.25 L82.34,216.17 L82.69,216.09 L83.03,216.02 L83.38,215.94 L83.73,215.86 L84.08,215.78 L84.43,215.70 L84.78,215.62 L85.12,215.54 L85.47,215.46 L85.82,215.38 L86.17,215.30 L86.52,215.22 L86.86,215.14 L87.21,215.06 L87.56,214.98 L87.91,214.90 L88.26,214.82 L88.61,214.74 L88.95,214.66 L89.30,214.58 L89.65,214.50 L90.00,214.42 L90.35,214.34 L90.70,214.26 L91.04,214.18 L91.39,214.10 L91.74,214.02 L92.09,213.94 L92.44,213.86 L92.78,213.78 L93.13,213.70 L93.48,213.61 L93.83,213.53 L94.18,213.45 L94.53,213.37 L94.87,213.29 L95.22,213.21 L95.57,213.13 L95.92,213.05 L96.27,212.97 L96.62,212.89 L96.96,212.81 L97.31,212.73 L97.66,212.65 L98.01,212.56 L98.36,212.48 L98.70,212.40 L99.05,212.32 L99.40,212.24 L99.75,212.16 L100.10,212.08 L100.45,212.00 L100.79,211.92 L101.14,211.84 L101.49,211.76 L101.84,211.68 L102.19,211.60 L102.53,211.52 L102.88,211.43 L103.23,211.35 L103.58,211.27 L103.93,211.19 L104.28,211.11 L104.62,211.03 L104.97,210.95 L105.32,210.87 L105.67,210.79 L106.02,210.71 L106.37,210.63 L106.71,210.55 L107.06,210.47 L107.41,210.39 L107.76,210.31 L108.11,210.23 L108.45,210.15 L108.80,210.07 L109.15,209.99 L109.50,209.91 L109.85,209.83 L110.20,209.75 L110.54,209.67 L110.89,209.59 L111.24,209.51 L111.59,209.43 L111.94,209.35 L112.29,209.27 L112.63,209.19 L112.98,209.11 L113.33,209.03 L113.68,208.95 L114.03,208.87 L114.37,208.79 L114.72,208.71 L115.07,208.63 L115.42,208.55 L115.77,208.47 L116.12,208.39 L116.46,208.31 L116.81,208.23 L117.16,208.15 L117.51,208.07 L117.86,207.99 L118.20,207.91 L118.55,207.83 L118.90,207.75 L119.25,207.67 L119.60,207.59 L119.95,207.51 L120.29,207.43 L120.64,207.35 L120.99,207.27 L121.34,207.19 L121.69,207.11 L122.04,207.03 L122.38,206.95 L122.73,206.87 L123.08,206.79 L123.43,206.71 L123.78,206.63 L124.12,206.55 L124.47,206.48 L124.82,206.40 L125.17,206.32 L125.52,206.24 L125.87,206.16 L126.21,206.08 L126.56,206.00 L126.91,205.92 L127.26,205.84 L127.61,205.76 L127.96,205.68 L128.30,205.60 L128.65,205.52 L129.00,205.44 L129.35,205.36 L129.70,205.28 L130.04,205.21 L130.39,205.13 L130.74,205.05 L131.09,204.97 L131.44,204.89 L131.79,204.81 L132.13,204.73 L132.48,204.65 L132.83,204.57 L133.18,204.49 L133.53,204.41 L133.87,204.33 L134.22,204.25 L134.57,204.17 L134.92,204.09 L135.27,204.02 L135.62,203.94 L135.96,203.86 L136.31,203.78 L136.66,203.70 L137.01,203.62 L137.36,203.54 L137.71,203.46 L138.05,203.38 L138.40,203.30 L138.75,203.22 L139.10,203.14 L139.45,203.06 L139.79,202.98 L140.14,202.90 L140.49,202.82 L140.84,202.75 L141.19,202.67 L141.54,202.59 L141.88,202.51 L142.23,202.43 L142.58,202.35 L142.93,202.27 L143.28,202.19 L143.63,202.11 L143.97,202.03 L144.32,201.95 L144.67,201.87 L145.02,201.79 L145.37,201.71 L145.71,201.63 L146.06,201.55 L146.41,201.47 L146.76,201.39 L147.11,201.31 L147.46,201.23 L147.80,201.15 L148.15,201.07 L148.50,200.99 L148.85,200.91 L149.20,200.83 L149.54,200.76 L149.89,200.68 L150.24,200.60 L150.59,200.52 L150.94,200.44 L151.29,200.36 L151.63,200.28 L151.98,200.20 L152.33,200.12 L152.68,200.04 L153.03,199.96 L153.38,199.88 L153.72,199.80 L154.07,199.72 L154.42,199.64 L154.77,199.56 L155.12,199.48 L155.46,199.40 L155.81,199.32 L156.16,199.24 L156.51,199.16 L156.86,199.07 L157.21,198.99 L157.55,198.91 L157.90,198.83 L158.25,198.75 L158.60,198.67 L158.95,198.59 L159.30,198.51 L159.64,198.43 L159.99,198.35 L160.34,198.27 L160.69,198.19 L161.04,198.11 L161.38,198.03 L161.73,197.95 L162.08,197.87 L162.43,197.79 L162.78,197.71 L163.13,197.63 L163.47,197.55 L163.82,197.46 L164.17,197.38 L164.52,197.30 L164.87,197.22 L165.21,197.14 L165.56,197.06 L165.91,196.98 L166.26,196.90 L166.61,196.82 L166.96,196.74 L167.30,196.65 L167.65,196.57 L168.00,196.49 L168.35,196.41 L168.70,196.33 L169.05,196.25 L169.39,196.17 L169.74,196.09 L170.09,196.00 L170.44,195.92 L170.79,195.84 L171.13,195.76 L171.48,195.68 L171.83,195.60 L172.18,195.51 L172.53,195.43 L172.88,195.35 L173.22,195.27 L173.57,195.19 L173.92,195.11 L174.27,195.02 L174.62,194.94 L174.97,194.86 L175.31,194.78 L175.66,194.70 L176.01,194.61 L176.36,194.53 L176.71,194.45 L177.05,194.37 L177.40,194.29 L177.75,194.20 L178.10,194.12 L178.45,194.04 L178.80,193.96 L179.14,193.87 L179.49,193.79 L179.84,193.71 L180.19,193.63 L180.54,193.54 L180.88,193.46 L181.23,193.38 L181.58,193.29 L181.93,193.21 L182.28,193.13 L182.63,193.05 L182.97,192.96 L183.32,192.88 L183.67,192.80 L184.02,192.71 L184.37,192.63 L184.72,192.55 L185.06,192.46 L185.41,192.38 L185.76,192.30 L186.11,192.22 L186.46,192.13 L186.80,192.05 L187.15,191.96 L187.50,191.88 L187.85,191.80 L188.20,191.71 L188.55,191.63 L188.89,191.55 L189.24,191.46 L189.59,191.38 L189.94,191.30 L190.29,191.21 L190.64,191.13 L190.98,191.04 L191.33,190.96 L191.68,190.88 L192.03,190.79 L192.38,190.71 L192.72,190.62 L193.07,190.54 L193.42,190.45 L193.77,190.37 L194.12,190.28 L194.47,190.20 L194.81,190.12 L195.16,190.03 L195.51,189.95 L195.86,189.86 L196.21,189.78 L196.55,189.69 L196.90,189.61 L197.25,189.52 L197.60,189.44 L197.95,189.35 L198.30,189.27 L198.64,189.18 L198.99,189.10 L199.34,189.01 L199.69,188.93 L200.04,188.84 L200.39,188.76 L200.73,188.67 L201.08,188.58 L201.43,188.50 L201.78,188.41 L202.13,188.33 L202.47,188.24 L202.82,188.16 L203.17,188.07 L203.52,187.98 L203.87,187.90 L204.22,187.81 L204.56,187.73 L204.91,187.64 L205.26,187.55 L205.61,187.47 L205.96,187.38 L206.31,187.29 L206.65,187.21 L207.00,187.12 L207.35,187.03 L207.70,186.95 L208.05,186.86 L208.39,186.77 L208.74,186.69 L209.09,186.60 L209.44,186.51 L209.79,186.43 L210.14,186.34 L210.48,186.25 L210.83,186.17 L211.18,186.08 L211.53,185.99 L211.88,185.90 L212.22,185.82 L212.57,185.73 L212.92,185.64 L213.27,185.55 L213.62,185.47 L213.97,185.38 L214.31,185.29 L214.66,185.20 L215.01,185.12 L215.36,185.03 L215.71,184.94 L216.06,184.85 L216.40,184.76 L216.75,184.67 L217.10,184.59 L217.45,184.50 L217.80,184.41 L218.14,184.32 L218.49,184.23 L218.84,184.14 L219.19,184.06 L219.54,183.97 L219.89,183.88 L220.23,183.79 L220.58,183.70 L220.93,183.61 L221.28,183.52 L221.63,183.43 L221.98,183.34 L222.32,183.25 L222.67,183.17 L223.02,183.08 L223.37,182.99 L223.72,182.90 L224.06,182.81 L224.41,182.72 L224.76,182.63 L225.11,182.54 L225.46,182.45 L225.81,182.36 L226.15,182.27 L226.50,182.18 L226.85,182.09 L227.20,182.00 L227.55,181.91 L227.89,181.82 L228.24,181.73 L228.59,181.64 L228.94,181.55 L229.29,181.46 L229.64,181.36 L229.98,181.27 L230.33,181.18 L230.68,181.09 L231.03,181.00 L231.38,180.91 L231.73,180.82 L232.07,180.73 L232.42,180.64 L232.77,180.54 L233.12,180.45 L233.47,180.36 L233.81,180.27 L234.16,180.18 L234.51,180.09 L234.86,180.00 L235.21,179.90 L235.56,179.81 L235.90,179.72 L236.25,179.63 L236.60,179.54 L236.95,179.44 L237.30,179.35 L237.65,179.26 L237.99,179.17 L238.34,179.07 L238.69,178.98 L239.04,178.89 L239.39,178.80 L239.73,178.70 L240.08,178.61 L240.43,178.52 L240.78,178.42 L241.13,178.33 L241.48,178.24 L241.82,178.14 L242.17,178.05 L242.52,177.96 L242.87,177.86 L243.22,177.77 L243.56,177.68 L243.91,177.58 L244.26,177.49 L244.61,177.40 L244.96,177.30 L245.31,177.21 L245.65,177.11 L246.00,177.02 L246.35,176.93 L246.70,176.83 L247.05,176.74 L247.40,176.64 L247.74,176.55 L248.09,176.45 L248.44,176.36 L248.79,176.26 L249.14,176.17 L249.48,176.07 L249.83,175.98 L250.18,175.88 L250.53,175.79 L250.88,175.69 L251.23,175.60 L251.57,175.50 L251.92,175.41 L252.27,175.31 L252.62,175.22 L252.97,175.12 L253.32,175.02 L253.66,174.93 L254.01,174.83 L254.36,174.74 L254.71,174.64 L255.06,174.54 L255.40,174.45 L255.75,174.35 L256.10,174.25 L256.45,174.16 L256.80,174.06 L257.15,173.96 L257.49,173.87 L257.84,173.77 L258.19,173.67 L258.54,173.58 L258.89,173.48 L259.23,173.38 L259.58,173.29 L259.93,173.19 L260.28,173.09 L260.63,172.99 L260.98,172.89 L261.32,172.80 L261.67,172.70 L262.02,172.60 L262.37,172.50 L262.72,172.41 L263.07,172.31 L263.41,172.21 L263.76,172.11 L264.11,172.01 L264.46,171.91 L264.81,171.81 L265.15,171.72 L265.50,171.62 L265.85,171.52 L266.20,171.42 L266.55,171.32 L266.90,171.22 L267.24,171.12 L267.59,171.02 L267.94,170.92 L268.29,170.82 L268.64,170.72 L268.99,170.62 L269.33,170.53 L269.68,170.43 L270.03,170.33 L270.38,170.23 L270.73,170.13 L271.07,170.02 L271.42,169.92 L271.77,169.82 L272.12,169.72 L272.47,169.62 L272.82,169.52 L273.16,169.42 L273.51,169.32 L273.86,169.22 L274.21,169.12 L274.56,169.02 L274.90,168.92 L275.25,168.82 L275.60,168.71 L275.95,168.61 L276.30,168.51 L276.65,168.41 L276.99,168.31 L277.34,168.21 L277.69,168.10 L278.04,168.00 L278.39,167.90 L278.74,167.80 L279.08,167.69 L279.43,167.59 L279.78,167.49 L280.13,167.39 L280.48,167.28 L280.82,167.18 L281.17,167.08 L281.52,166.98 L281.87,166.87 L282.22,166.77 L282.57,166.67 L282.91,166.56 L283.26,166.46 L283.61,166.36 L283.96,166.25 L284.31,166.15 L284.66,166.04 L285.00,165.94 L285.35,165.84 L285.70,165.73 L286.05,165.63 L286.40,165.52 L286.74,165.42 L287.09,165.32 L287.44,165.21 L287.79,165.11 L288.14,165.00 L288.49,164.90 L288.83,164.79 L289.18,164.69 L289.53,164.58 L289.88,164.48 L290.23,164.37 L290.57,164.26 L290.92,164.16 L291.27,164.05 L291.62,163.95 L291.97,163.84 L292.32,163.74 L292.66,163.63 L293.01,163.52 L293.36,163.42 L293.71,163.31 L294.06,163.20 L294.41,163.10 L294.75,162.99 L295.10,162.88 L295.45,162.78 L295.80,162.67 L296.15,162.56 L296.49,162.46 L296.84,162.35 L297.19,162.24 L297.54,162.13 L297.89,162.03 L298.24,161.92 L298.58,161.81 L298.93,161.70 L299.28,161.59 L299.63,161.49 L299.98,161.38 L300.33,161.27 L300.67,161.16 L301.02,161.05 L301.37,160.94 L301.72,160.84 L302.07,160.73 L302.41,160.62 L302.76,160.51 L303.11,160.40 L303.46,160.29 L303.81,160.18 L304.16,160.07 L304.50,159.96 L304.85,159.85 L305.20,159.74 L305.55,159.63 L305.90,159.52 L306.24,159.41 L306.59,159.30 L306.94,159.19 L307.29,159.08 L307.64,158.97 L307.99,158.86 L308.33,158.75 L308.68,158.64 L309.03,158.53 L309.38,158.42 L309.73,158.30 L310.08,158.19 L310.42,158.08 L310.77,157.97 L311.12,157.86 L311.47,157.75 L311.82,157.64 L312.16,157.52 L312.51,157.41 L312.86,157.30 L313.21,157.19 L313.56,157.07 L313.91,156.96 L314.25,156.85 L314.60,156.74 L314.95,156.62 L315.30,156.51 L315.65,156.40 L316.00,156.28 L316.34,156.17 L316.69,156.06 L317.04,155.94 L317.39,155.83 L317.74,155.72 L318.08,155.60 L318.43,155.49 L318.78,155.37 L319.13,155.26 L319.48,155.15 L319.83,155.03 L320.17,154.92 L320.52,154.80 L320.87,154.69 L321.22,154.57 L321.57,154.46 L321.91,154.34 L322.26,154.23 L322.61,154.11 L322.96,154.00 L323.31,153.88 L323.66,153.77 L324.00,153.65 L324.35,153.53 L324.70,153.42 L325.05,153.30 L325.40,153.19 L325.75,153.07 L326.09,152.95 L326.44,152.84 L326.79,152.72 L327.14,152.60 L327.49,152.49 L327.83,152.37 L328.18,152.25 L328.53,152.13 L328.88,152.02 L329.23,151.90 L329.58,151.78 L329.92,151.66 L330.27,151.55 L330.62,151.43 L330.97,151.31 L331.32,151.19 L331.67,151.07 L332.01,150.95 L332.36,150.84 L332.71,150.72 L333.06,150.60 L333.41,150.48 L333.75,150.36 L334.10,150.24 L334.45,150.12 L334.80,150.00 L335.15,149.88 L335.50,149.76 L335.84,149.64 L336.19,149.52 L336.54,149.40 L336.89,149.28 L337.24,149.16 L337.58,149.04 L337.93,148.92 L338.28,148.80 L338.63,148.68 L338.98,148.56 L339.33,148.44 L339.67,148.32 L340.02,148.20 L340.37,148.08 L340.72,147.95 L341.07,147.83 L341.42,147.71 L341.76,147.59 L342.11,147.47 L342.46,147.34 L342.81,147.22 L343.16,147.10 L343.50,146.98 L343.85,146.85 L344.20,146.73 L344.55,146.61 L344.90,146.49 L345.25,146.36 L345.59,146.24 L345.94,146.12 L346.29,145.99 L346.64,145.87 L346.99,145.75 L347.34,145.62 L347.68,145.50 L348.03,145.37 L348.38,145.25 L348.73,145.12 L349.08,145.00 L349.42,144.88 L349.77,144.75 L350.12,144.63 L350.47,144.50 L350.82,144.38 L351.17,144.25 L351.51,144.12 L351.86,144.00 L352.21,143.87 L352.56,143.75 L352.91,143.62 L353.25,143.50 L353.60,143.37 L353.95,143.24 L354.30,143.12 L354.65,142.99 L355.00,142.86 L355.34,142.74 L355.69,142.61 L356.04,142.48 L356.39,142.36 L356.74,142.23 L357.09,142.10 L357.43,141.97 L357.78,141.85 L358.13,141.72 L358.48,141.59 L358.83,141.46 L359.17,141.33 L359.52,141.21 L359.87,141.08 L360.22,140.95 L360.57,140.82 L360.92,140.69 L361.26,140.56 L361.61,140.43 L361.96,140.30 L362.31,140.17 L362.66,140.04 L363.01,139.91 L363.35,139.78 L363.70,139.65 L364.05,139.52 L364.40,139.39 L364.75,139.26 L365.09,139.13 L365.44,139.00 L365.79,138.87 L366.14,138.74 L366.49,138.61 L366.84,138.48 L367.18,138.35 L367.53,138.22 L367.88,138.08 L368.23,137.95 L368.58,137.82 L368.92,137.69 L369.27,137.56 L369.62,137.42 L369.97,137.29 L370.32,137.16 L370.67,137.03 L371.01,136.89 L371.36,136.76 L371.71,136.63 L372.06,136.49 L372.41,136.36 L372.76,136.23 L373.10,136.09 L373.45,135.96 L373.80,135.83" stroke="#e07a14" stroke-width="2" stroke-dasharray="10.3 7.98" stroke-dashoffset="0.6"/>
</g>
<text x="60.10" y="239.4" font-size="14.4" text-anchor="middle" textLength="20.5" lengthAdjust="spacingAndGlyphs">0.0</text>
<text x="94.92" y="239.4" font-size="14.4" text-anchor="middle" textLength="20.5" lengthAdjust="spacingAndGlyphs">0.2</text>
<text x="129.74" y="239.4" font-size="14.4" text-anchor="middle" textLength="20.5" lengthAdjust="spacingAndGlyphs">0.4</text>
<text x="164.57" y="239.4" font-size="14.4" text-anchor="middle" textLength="20.5" lengthAdjust="spacingAndGlyphs">0.6</text>
<text x="199.39" y="239.4" font-size="14.4" text-anchor="middle" textLength="20.5" lengthAdjust="spacingAndGlyphs">0.8</text>
<text x="234.21" y="239.4" font-size="14.4" text-anchor="middle" textLength="20.5" lengthAdjust="spacingAndGlyphs">1.0</text>
<text x="269.03" y="239.4" font-size="14.4" text-anchor="middle" textLength="20.5" lengthAdjust="spacingAndGlyphs">1.2</text>
<text x="303.86" y="239.4" font-size="14.4" text-anchor="middle" textLength="20.5" lengthAdjust="spacingAndGlyphs">1.4</text>
<text x="338.68" y="239.4" font-size="14.4" text-anchor="middle" textLength="20.5" lengthAdjust="spacingAndGlyphs">1.6</text>
<text x="373.50" y="239.4" font-size="14.4" text-anchor="middle" textLength="20.5" lengthAdjust="spacingAndGlyphs">1.8</text>
<text x="52.4" y="225.1" font-size="14.4" text-anchor="end" textLength="21.2" lengthAdjust="spacingAndGlyphs">0.0</text>
<text x="52.4" y="173.2" font-size="14.4" text-anchor="end" textLength="21.2" lengthAdjust="spacingAndGlyphs">0.1</text>
<text x="52.4" y="121.2" font-size="14.4" text-anchor="end" textLength="21.2" lengthAdjust="spacingAndGlyphs">0.2</text>
<text x="52.4" y="69.2" font-size="14.4" text-anchor="end" textLength="21.2" lengthAdjust="spacingAndGlyphs">0.3</text>
<text x="52.4" y="17.6" font-size="14.4" text-anchor="end" textLength="21.2" lengthAdjust="spacingAndGlyphs">0.4</text>
<text x="136.3" y="259.7" font-size="14.4" text-anchor="start" textLength="49.0" lengthAdjust="spacingAndGlyphs">Phonon</text>
<text x="190.5" y="259.7" font-size="14.4" text-anchor="start" textLength="66.3" lengthAdjust="spacingAndGlyphs">frequency</text>
<text x="262.9" y="259.7" font-size="14.4" text-anchor="start" textLength="36.7" lengthAdjust="spacingAndGlyphs">(THz)</text>
<g transform="translate(18,0) rotate(-90)">
<text x="-163.2" y="0" font-size="14.4" text-anchor="start" textLength="46.2" lengthAdjust="spacingAndGlyphs">T-JDOS</text>
<text x="-110.2" y="0" font-size="14.4" text-anchor="start" textLength="32.2" lengthAdjust="spacingAndGlyphs">(THz</text>
<text x="-77.2" y="-5.6" font-size="10.2" text-anchor="start" textLength="8.6" lengthAdjust="spacingAndGlyphs">-1</text>
<text x="-68.6" y="0" font-size="14.4" text-anchor="start" textLength="4.9" lengthAdjust="spacingAndGlyphs">)</text>
</g>
<text x="177.3" y="29.7" font-size="11.8" text-anchor="start" textLength="27.0" lengthAdjust="spacingAndGlyphs">Total</text>
<text x="207.7" y="29.7" font-size="11.8" text-anchor="start" textLength="39.8" lengthAdjust="spacingAndGlyphs">T-JDOS</text>
<text x="147.3" y="43.8" font-size="11.8" text-anchor="start" textLength="27.0" lengthAdjust="spacingAndGlyphs">Total</text>
<text x="178.3" y="43.8" font-size="11.8" text-anchor="start" textLength="67.6" lengthAdjust="spacingAndGlyphs">Coalescence</text>
<text x="88.2" y="58.2" font-size="11.8" text-anchor="start" textLength="41.6" lengthAdjust="spacingAndGlyphs">Herring</text>
<text x="134.3" y="58.2" font-size="11.8" text-anchor="start" textLength="17.4" lengthAdjust="spacingAndGlyphs">Co.</text>
<text x="157.8" y="58.2" font-size="11.8" text-anchor="start" textLength="42.0" lengthAdjust="spacingAndGlyphs">(LA+TA</text>
<text x="199.6" y="61.0" font-size="10.2" text-anchor="start" textLength="5.8" lengthAdjust="spacingAndGlyphs">S</text>
<path d="M209.7,55.5 H218.2 M215.8,53.5 L218.9,55.5 L215.8,57.5" stroke="#111" stroke-width="0.9" fill="none"/>
<text x="223.3" y="58.2" font-size="11.8" text-anchor="start" textLength="15.0" lengthAdjust="spacingAndGlyphs">TA</text>
<text x="238.5" y="61.0" font-size="10.2" text-anchor="start" textLength="5.2" lengthAdjust="spacingAndGlyphs">F</text>
<text x="243.6" y="58.2" font-size="11.8" text-anchor="start" textLength="3.8" lengthAdjust="spacingAndGlyphs">)</text>
<text x="159.4" y="71.9" font-size="11.8" text-anchor="start" textLength="67.9" lengthAdjust="spacingAndGlyphs">Non-Herring</text>
<text x="232.8" y="71.9" font-size="11.8" text-anchor="start" textLength="16.8" lengthAdjust="spacingAndGlyphs">Co.</text>
<text x="214.1" y="86.0" font-size="11.8" text-anchor="start" textLength="32.6" lengthAdjust="spacingAndGlyphs">Decay</text>
<path d="M254.8,26.6 H286.3" stroke="#000" stroke-width="3" stroke-linecap="round" fill="none"/>
<path d="M254,40.8 H264.7 M272.1,40.8 H276 M278.6,40.8 H287.4" stroke="#1c78e0" stroke-width="2" fill="none"/>
<path d="M254,54.4 H256.3 M257.9,54.4 H259.5 M260.5,54.4 H266.3 M270,54.4 H271.6 M273.2,54.4 H275 M276.1,54.4 H282.1 M285.3,54.4 H286.8" stroke="#1c78e0" stroke-width="1.3" fill="none"/>
<path d="M254,68.4 H260 M263.2,68.4 H269.2 M272.4,68.4 H274.4 M275.8,68.4 H281.6 M285,68.4 H286.9" stroke="#1c78e0" stroke-width="1.3" fill="none"/>
<path d="M254,82.6 H264.7 M272.1,82.6 H283.2" stroke="#e07a14" stroke-width="2" fill="none"/>
</svg></body></html>
